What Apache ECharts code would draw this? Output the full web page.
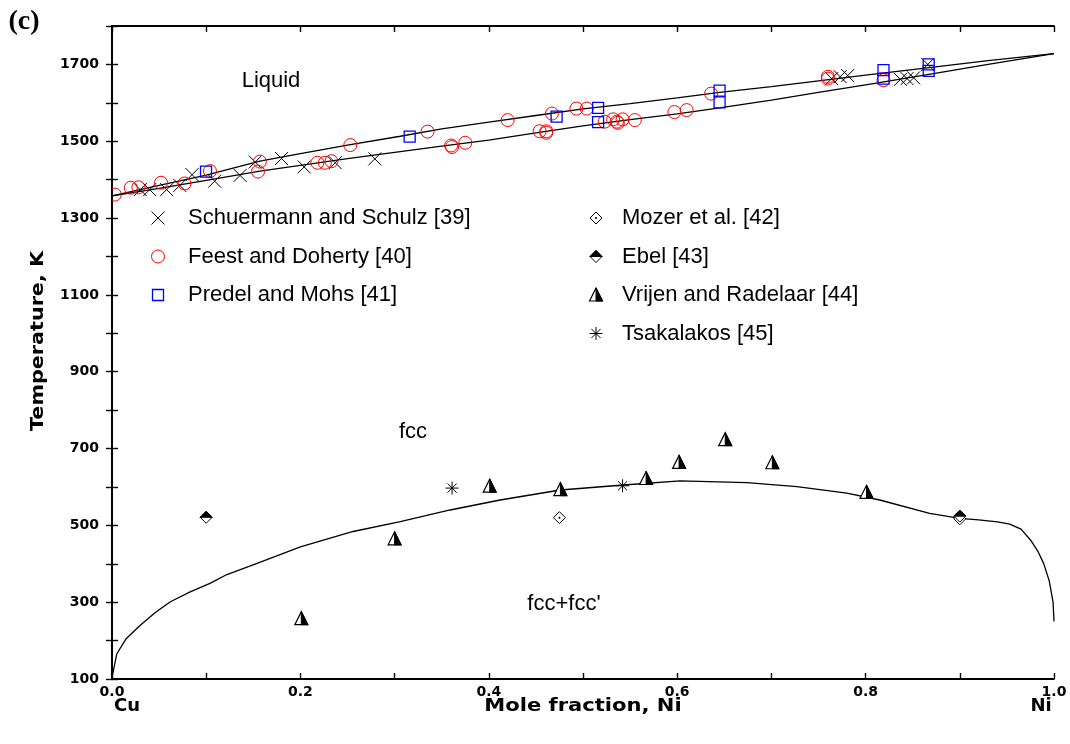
<!DOCTYPE html>
<html>
<head>
<meta charset="utf-8">
<script src="https://cdn.jsdelivr.net/npm/echarts@6/dist/echarts.min.js"></script>
<style>
  html, body { margin: 0; padding: 0; background: #fff; }
  #chart { width: 1070px; height: 744px; }
</style>
</head>
<body>
<div id="chart"></div>
<script>
// Cu–Ni phase diagram: calculated liquidus, solidus and fcc miscibility gap,
// with experimental points from the literature.

// ---- calculated phase boundaries: [mole fraction Ni, T (K)] ----
const liquidus = [
  [0, 1358], [0.05, 1385], [0.1, 1412], [0.157, 1448], [0.2, 1468], [0.25, 1490],
  [0.306, 1513], [0.35, 1532], [0.4, 1550], [0.45, 1567], [0.5, 1584], [0.55, 1598],
  [0.6, 1613], [0.645, 1627], [0.7, 1642], [0.75, 1657], [0.8, 1672], [0.872, 1693],
  [0.93, 1710], [1.0, 1728]
];
const solidus = [
  [0, 1358], [0.05, 1377], [0.1, 1398], [0.157, 1422], [0.2, 1437], [0.25, 1455],
  [0.306, 1473], [0.35, 1487], [0.4, 1503], [0.45, 1522], [0.5, 1540], [0.55, 1556],
  [0.6, 1571], [0.645, 1587], [0.7, 1607], [0.75, 1627], [0.8, 1647], [0.872, 1676],
  [0.93, 1700], [1.0, 1728]
];
const miscibilityGap = [
  [0.0005, 110], [0.005, 165], [0.015, 205], [0.03, 240], [0.046, 273], [0.062, 301],
  [0.083, 327], [0.104, 349], [0.122, 372], [0.154, 401], [0.2, 444], [0.256, 484],
  [0.306, 510], [0.359, 540], [0.412, 566], [0.476, 592], [0.543, 605], [0.603, 616],
  [0.674, 611], [0.727, 601], [0.78, 584], [0.815, 566], [0.868, 531], [0.9, 518],
  [0.92, 514], [0.94, 509], [0.953, 503], [0.965, 490], [0.975, 462], [0.983, 432],
  [0.989, 401], [0.995, 355], [0.999, 300], [1.0, 250]
];

// ---- experimental data: [mole fraction Ni, T (K)] ----
const schuermannSchulz = [
  [0.030, 1374], [0.040, 1374], [0.058, 1374], [0.072, 1385], [0.085, 1413], [0.109, 1396],
  [0.136, 1411], [0.152, 1446], [0.180, 1455], [0.204, 1433], [0.237, 1444], [0.279, 1454],
  [0.764, 1663], [0.773, 1668], [0.781, 1671], [0.837, 1661], [0.844, 1663], [0.851, 1665],
  [0.866, 1700]
];
const feestDoherty = [
  [0.003, 1361], [0.020, 1379], [0.028, 1380], [0.052, 1392], [0.077, 1390], [0.104, 1422],
  [0.155, 1421], [0.157, 1447], [0.218, 1444], [0.226, 1444], [0.233, 1448], [0.253, 1490],
  [0.335, 1525], [0.360, 1489], [0.361, 1485], [0.375, 1496], [0.420, 1555], [0.454, 1526],
  [0.461, 1522], [0.461, 1526], [0.467, 1572], [0.493, 1585], [0.504, 1585], [0.523, 1551],
  [0.532, 1557], [0.536, 1551], [0.537, 1548], [0.542, 1557], [0.555, 1555], [0.597, 1576],
  [0.610, 1581], [0.636, 1624], [0.760, 1663], [0.760, 1668], [0.819, 1659]
];
const predelMohs = [
  [0.0998, 1421], [0.316, 1512], [0.472, 1564], [0.516, 1587], [0.516, 1550], [0.645, 1632],
  [0.645, 1601], [0.819, 1685], [0.819, 1663], [0.867, 1700], [0.867, 1683]
];
const mozer = [[0.475, 520], [0.900, 517]];
const ebel = [[0.100, 521], [0.900, 524]];
const vrijenRadelaar = [
  [0.201, 257], [0.300, 465], [0.401, 602], [0.476, 593], [0.567, 622], [0.602, 664],
  [0.651, 723], [0.701, 663], [0.801, 586]
];
const tsakalakos = [[0.361, 597], [0.542, 603]];

// ---- axis ticks ----
const tempTickLabels = [100, 300, 500, 700, 900, 1100, 1300, 1500, 1700];
const fractionTickLabels = [0, 0.2, 0.4, 0.6, 0.8, 1.0];

const sources = [
  { name: 'Schuermann and Schulz [39]', data: schuermannSchulz, kind: 'cross' },
  { name: 'Feest and Doherty [40]', data: feestDoherty, kind: 'circle' },
  { name: 'Predel and Mohs [41]', data: predelMohs, kind: 'square' },
  { name: 'Mozer et al. [42]', data: mozer, kind: 'dotDiamond' },
  { name: 'Ebel [43]', data: ebel, kind: 'halfDiamond' },
  { name: 'Vrijen and Radelaar [44]', data: vrijenRadelaar, kind: 'halfTriangle' },
  { name: 'Tsakalakos [45]', data: tsakalakos, kind: 'asterisk' }
];

// Build the drawing elements of one marker centred at (x, y) in pixels.
function marker(kind, x, y) {
  const k = [];
  const ink = '#000';
  const seg = (x1, y1, x2, y2, w) => ({
    type: 'line', shape: { x1, y1, x2, y2 }, style: { stroke: ink, lineWidth: w || 1 }
  });
  if (kind === 'cross') {
    const h = 6.5;
    k.push(seg(x - h, y - h, x + h, y + h), seg(x - h, y + h, x + h, y - h));
  } else if (kind === 'circle') {
    k.push({ type: 'circle', shape: { cx: x, cy: y, r: 6.5 },
      style: { fill: 'none', stroke: '#ff0000', lineWidth: 1 } });
  } else if (kind === 'square') {
    k.push({ type: 'rect', shape: { x: x - 5.5, y: y - 5.5, width: 11, height: 11 },
      style: { fill: 'none', stroke: '#0000ff', lineWidth: 1.3 } });
  } else if (kind === 'dotDiamond' || kind === 'halfDiamond') {
    const h = 6;
    k.push({ type: 'polygon', shape: { points: [[x, y - h], [x + h, y], [x, y + h], [x - h, y]] },
      style: { fill: '#fff', stroke: ink, lineWidth: 1 } });
    if (kind === 'dotDiamond') {
      k.push({ type: 'circle', shape: { cx: x, cy: y, r: 1 }, style: { fill: ink } });
    } else {
      k.push({ type: 'polygon', shape: { points: [[x, y - h], [x + h, y], [x - h, y]] },
        style: { fill: ink, stroke: ink, lineWidth: 1 } });
    }
  } else if (kind === 'halfTriangle') {
    const top = y - 7, base = y + 6, h = 6.5;
    k.push({ type: 'polygon', shape: { points: [[x, top], [x + h, base], [x - h, base]] },
      style: { fill: '#fff', stroke: ink, lineWidth: 1.2 } });
    k.push({ type: 'polygon', shape: { points: [[x, top], [x + h, base], [x, base]] },
      style: { fill: ink, stroke: ink, lineWidth: 1 } });
  } else if (kind === 'asterisk') {
    const h = 6.5, d = 4.6;
    k.push(seg(x, y - h, x, y + h), seg(x - h, y, x + h, y),
      seg(x - d, y - d, x + d, y + d), seg(x - d, y + d, x + d, y - d));
  }
  return { type: 'group', children: k };
}

function markerSeries(src) {
  return {
    type: 'custom',
    name: src.name,
    data: src.data,
    clip: true,
    z: 5,
    encode: { x: 0, y: 1 },
    renderItem(params, api) {
      const p = api.coord([api.value(0), api.value(1)]);
      return marker(src.kind, p[0], p[1]);
    }
  };
}

function boundarySeries(name, data) {
  return {
    type: 'line', name, data, showSymbol: false, symbol: 'none', smooth: false,
    lineStyle: { color: '#000', width: 1.3 }, z: 3, silent: true
  };
}

const tickFont = { fontFamily: 'DejaVu Sans', fontWeight: 'bold', fontSize: 14, color: '#000' };
const frame = { lineStyle: { color: '#000', width: 1.8 } };
const ticks = { inside: true, length: 6, lineStyle: { color: '#000', width: 1.4 } };

// Legend drawn as graphic rows, two columns
const legendRows = [
  { col: 0, row: 0 }, { col: 0, row: 1 }, { col: 0, row: 2 },
  { col: 1, row: 0 }, { col: 1, row: 1 }, { col: 1, row: 2 }, { col: 1, row: 3 }
];
const legendCols = [{ mark: 158, text: 188 }, { mark: 596, text: 622 }];
const legendTop = 218, legendStep = 38.5;
const textFont = '22px "Liberation Sans", Arial, sans-serif';

const legendGraphics = [];
sources.forEach((src, i) => {
  const c = legendCols[legendRows[i].col];
  const y = legendTop + legendRows[i].row * legendStep;
  legendGraphics.push(marker(src.kind, c.mark, y));
  legendGraphics.push({ type: 'text', x: c.text, y: y,
    style: { text: src.name, font: textFont, fill: '#000', align: 'left', verticalAlign: 'middle',
      textAlign: 'left', textVerticalAlign: 'middle' } });
});

function label(text, x, y, font, extra) {
  return Object.assign({ type: 'text', x, y,
    style: { text, font, fill: '#000', align: 'center', verticalAlign: 'middle',
      textAlign: 'center', textVerticalAlign: 'middle' } }, extra || {});
}

// heavy, wide axis-title lettering
const titleFont = 'bold 18px "DejaVu Sans", sans-serif';

const option = {
  backgroundColor: '#fff',
  animation: false,
  grid: { left: 112, right: 16, top: 26, bottom: 65, containLabel: false },
  xAxis: [
    {
      type: 'value', min: 0, max: 1, interval: 0.1, position: 'bottom',
      axisLine: frame, axisTick: ticks, splitLine: { show: false },
      axisLabel: Object.assign({
        margin: 6,
        formatter: v => {
          const t = Math.round(v * 10) / 10;
          return fractionTickLabels.some(f => Math.abs(f - t) < 1e-9) ? t.toFixed(1) : '';
        }
      }, tickFont)
    },
    {
      type: 'value', min: 0, max: 1, interval: 0.1, position: 'top',
      axisLine: frame, axisTick: ticks, axisLabel: { show: false }, splitLine: { show: false }
    }
  ],
  yAxis: [
    {
      type: 'value', min: 100, max: 1800, interval: 100, position: 'left',
      axisLine: frame, axisTick: ticks, splitLine: { show: false },
      axisLabel: Object.assign({
        margin: 13,
        formatter: v => (tempTickLabels.indexOf(Math.round(v)) >= 0 ? String(Math.round(v)) : '')
      }, tickFont)
    },
    {
      type: 'value', min: 100, max: 1800, interval: 100, position: 'right',
      axisLine: frame, axisTick: ticks, axisLabel: { show: false }, splitLine: { show: false }
    }
  ],
  series: [
    boundarySeries('liquidus', liquidus),
    boundarySeries('solidus', solidus),
    boundarySeries('miscibility gap', miscibilityGap)
  ].concat(sources.map(markerSeries)),
  graphic: [
    label('(c)', 24, 22, 'bold 28px "Liberation Serif", "Times New Roman", serif'),
    label('Liquid', 271, 81, textFont),
    label('fcc', 413, 432, textFont),
    label("fcc+fcc'", 564, 604, textFont),
    label('Cu', 127, 706, titleFont),
    label('Mole fraction, Ni', 583, 706, titleFont, { scaleX: 1.17 }),
    label('Ni', 1041, 706, titleFont),
    label('Temperature, K', 38, 341, titleFont, { rotation: Math.PI / 2, scaleX: 1.15 })
  ].concat(legendGraphics)
};

const chart = echarts.init(document.getElementById('chart'), null, { renderer: 'canvas' });
chart.setOption(option);
</script>
</body>
</html>
